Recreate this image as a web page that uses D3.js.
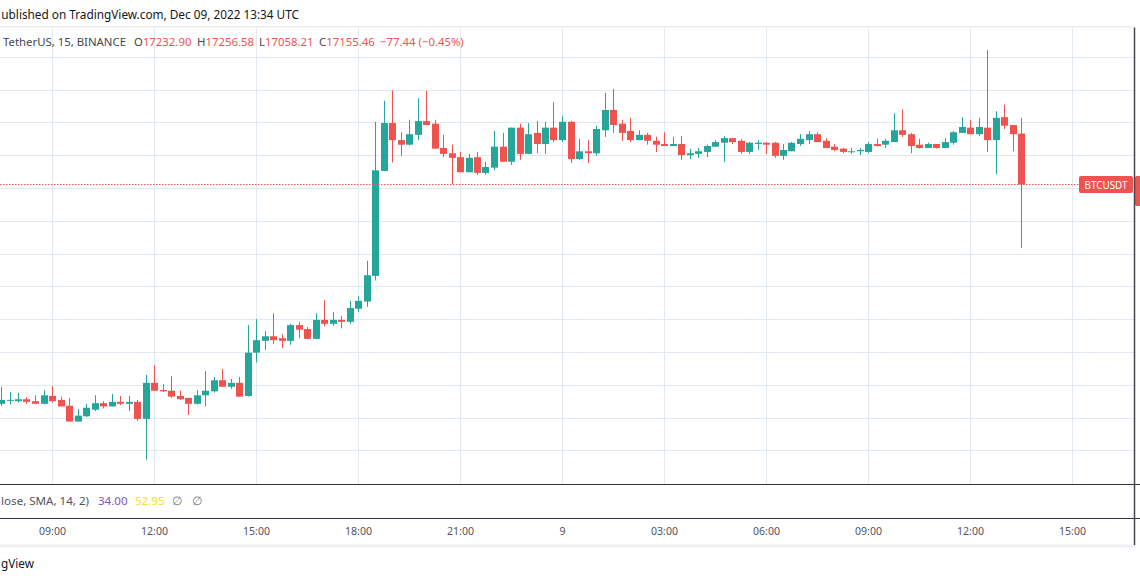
<!DOCTYPE html>
<html><head><meta charset="utf-8">
<script src="https://cdn.jsdelivr.net/npm/d3@7"></script>
<style>
body{margin:0;background:#fff;}
svg{display:block;font-family:"Noto Sans",Roboto,sans-serif;}
</style>
</head><body>
<svg id="chart" width="1140" height="581"></svg>
<script>
// ---------------- DATA ----------------
const startTime = "2022-12-08T07:30:00Z";   // first visible 15-minute candle
const intervalMinutes = 15;
const opens  = [16821,16826,16825,16828,16825,16821,16833,16827,16818,16794,16802,16812,16822,16817,16824,16821,16824,16798,16853,16842,16841,16833,16830,16821,16834,16840,16857,16847,16853,16833,16899,16917,16924,16921,16917,16941,16935,16920,16949,16943,16949,16946,16966,16977,17016,17176,17249,17223,17216,17231,17252,17248,17211,17203,17197,17174,17197,17173,17181,17213,17190,17242,17202,17234,17217,17242,17223,17251,17194,17206,17203,17238,17269,17248,17237,17223,17231,17222,17217,17214,17217,17200,17202,17205,17213,17219,17226,17222,17205,17217,17219,17219,17199,17206,17217,17223,17232,17222,17213,17210,17205,17206,17205,17217,17216,17220,17238,17232,17216,17211,17217,17211,17219,17234,17242,17232,17242,17223,17258,17246,17232.90];
const highs  = [16847,16839,16838,16831,16834,16842,16848,16832,16830,16813,16821,16834,16825,16836,16833,16833,16827,16865,16880,16851,16863,16841,16830,16842,16871,16862,16874,16859,16862,16941,16950,16932,16959,16927,16943,16946,16938,16959,16979,16961,16955,16978,16985,17039,17251,17283,17299,17235,17254,17287,17298,17254,17231,17216,17205,17202,17205,17190,17237,17234,17242,17248,17249,17252,17251,17281,17260,17252,17225,17223,17245,17295,17301,17254,17257,17238,17234,17228,17235,17228,17229,17210,17211,17216,17223,17229,17226,17225,17220,17223,17220,17220,17217,17220,17232,17237,17235,17226,17217,17211,17211,17211,17220,17225,17225,17264,17270,17234,17225,17219,17217,17226,17237,17258,17254,17257,17360,17267,17277,17246,17256.58];
const lows   = [16818,16820,16823,16821,16821,16820,16823,16817,16794,16794,16801,16810,16814,16817,16819,16810,16795,16736,16841,16839,16830,16827,16804,16820,16817,16838,16847,16844,16832,16832,16884,16903,16912,16906,16911,16921,16920,16920,16939,16940,16936,16943,16961,16969,17009,17176,17189,17199,17215,17223,17246,17210,17197,17156,17174,17174,17170,17170,17177,17190,17185,17193,17202,17203,17202,17220,17220,17188,17193,17188,17199,17228,17234,17222,17220,17223,17216,17205,17214,17214,17193,17194,17196,17197,17213,17190,17217,17202,17202,17208,17202,17196,17193,17206,17214,17217,17220,17211,17206,17203,17202,17200,17203,17213,17211,17220,17228,17203,17210,17211,17210,17211,17216,17234,17232,17229,17205,17171,17240,17206,17058.21];
const closes = [16827,16827,16828,16824,16821,16834,16825,16817,16794,16803,16815,16822,16817,16824,16821,16824,16798,16853,16841,16840,16832,16828,16821,16834,16841,16857,16847,16853,16832,16899,16918,16924,16918,16917,16941,16934,16920,16949,16943,16949,16946,16967,16978,17017,17177,17249,17223,17216,17232,17252,17246,17210,17202,17196,17174,17196,17173,17182,17213,17190,17242,17202,17232,17217,17242,17223,17251,17194,17206,17203,17240,17269,17246,17234,17223,17231,17222,17216,17214,17217,17200,17203,17206,17214,17220,17226,17220,17205,17219,17219,17216,17199,17208,17219,17225,17232,17220,17211,17208,17205,17206,17208,17217,17214,17222,17238,17231,17214,17211,17217,17211,17220,17235,17243,17232,17243,17223,17257,17245,17232,17155.46];

const priceGridValues = [16750,16800,16850,16900,16950,17000,17050,17100,17150,17200,17250,17300,17350];
const timeTickTimes = ["2022-12-08T09:00:00Z","2022-12-08T12:00:00Z","2022-12-08T15:00:00Z","2022-12-08T18:00:00Z","2022-12-08T21:00:00Z","2022-12-09T00:00:00Z","2022-12-09T03:00:00Z","2022-12-09T06:00:00Z","2022-12-09T09:00:00Z","2022-12-09T12:00:00Z","2022-12-09T15:00:00Z"];
const timeTickLabels = ["09:00","12:00","15:00","18:00","21:00","9","03:00","06:00","09:00","12:00","15:00"];

// texts as they are visible in the (left-cropped) snapshot
const headerText = "ublished on TradingView.com, Dec 09, 2022 13:34 UTC";
const symbolTitle = "TetherUS, 15, BINANCE";
const ohlcLabels = ["O","H","L","C"];
const ohlcValues = ["17232.90","17256.58","17058.21","17155.46"];
const changeText = "\u221277.44 (\u22120.45%)";
const indicatorTitle = "lose, SMA, 14, 2)";
const indicatorValues = ["34.00","52.95","\u2205","\u2205"];
const symbolLabel = "BTCUSDT";
const footerText = "gView";

// ---------------- COLORS ----------------
const UP = "#26a69a", DOWN = "#ef5350";
const GRID = "#e1eaf1";

// ---------------- BUILD ----------------
const svg = d3.select("#chart");
const W = 1140, H = 581;
const paneRight = 1134;
const paneTop = 27, paneBottom = 484, indBottom = 518;

svg.append("rect").attr("width", W).attr("height", H).attr("fill", "#fff");

const t0 = new Date(startTime).getTime();
const candles = opens.map((o, i) => ({
  t: new Date(t0 + i * intervalMinutes * 60000),
  o, h: highs[i], l: lows[i], c: closes[i]
}));

const x = d3.scaleUtc()
  .domain([new Date("2022-12-08T09:00:00Z"), new Date("2022-12-09T15:00:00Z")])
  .range([52, 1072]);
const y = d3.scaleLinear().domain([16750, 17400]).range([450.4, 24]);

function fitSize(str, target, weight) {
  const t = svg.append("text").attr("font-size", 100).attr("font-weight", weight || 400).text(str);
  const w = t.node().getComputedTextLength();
  t.remove();
  return 100 * target / w;
}

// top band
svg.append("rect").attr("x", 0).attr("y", 26).attr("width", paneRight).attr("height", 1.5).attr("fill", "#ededf0");

// grid
const grid = svg.append("g");
grid.selectAll("line.h").data(priceGridValues).join("line")
  .attr("x1", 0).attr("x2", paneRight)
  .attr("y1", d => Math.round(y(d)) + 0.5).attr("y2", d => Math.round(y(d)) + 0.5)
  .attr("stroke", GRID).attr("stroke-width", 1);
grid.selectAll("line.v").data(timeTickTimes).join("line")
  .attr("x1", d => Math.round(x(new Date(d))) + 0.5).attr("x2", d => Math.round(x(new Date(d))) + 0.5)
  .attr("y1", paneTop + 1).attr("y2", paneBottom)
  .attr("stroke", GRID).attr("stroke-width", 1);

// candles
const cg = svg.append("g");
const bodyW = 7;
cg.selectAll("line.wick").data(candles).join("line")
  .attr("x1", d => Math.round(x(d.t)) + 0.5).attr("x2", d => Math.round(x(d.t)) + 0.5)
  .attr("y1", d => y(d.h)).attr("y2", d => y(d.l))
  .attr("stroke", d => d.c >= d.o ? UP : DOWN).attr("stroke-width", 1);
cg.selectAll("rect.body").data(candles).join("rect")
  .attr("x", d => Math.round(x(d.t)) - 3)
  .attr("width", bodyW)
  .attr("y", d => Math.min(y(d.o), y(d.c)))
  .attr("height", d => Math.max(1, Math.abs(y(d.o) - y(d.c))))
  .attr("fill", d => d.c >= d.o ? UP : DOWN);

// last price line
const last = candles[candles.length - 1];
const py = Math.round(y(last.c)) + 0.5;
svg.append("line").attr("x1", 0).attr("x2", 1079).attr("y1", py).attr("y2", py)
  .attr("stroke", DOWN).attr("stroke-width", 1).attr("stroke-dasharray", "1.5,1.5");
svg.append("rect").attr("x", 1079).attr("y", py - 8.5).attr("width", 54).attr("height", 17).attr("rx", 2).attr("fill", DOWN);
svg.append("text").attr("x", 1106).attr("y", py + 4).attr("text-anchor", "middle")
  .attr("font-size", fitSize(symbolLabel, 43)).attr("fill", "#fff").text(symbolLabel);
svg.append("rect").attr("x", 1135).attr("y", py - 8.5).attr("width", 10).attr("height", 30).attr("rx", 2).attr("fill", DOWN);

// header text
svg.append("text").attr("x", 299).attr("y", 18.5).attr("text-anchor", "end")
  .attr("font-size", fitSize(headerText, 298)).attr("fill", "#131722").text(headerText);

// OHLC legend
const ls = fitSize(symbolTitle, 123);
svg.append("text").attr("x", 126).attr("y", 45.5).attr("text-anchor", "end")
  .attr("font-size", ls).attr("fill", "#434651").text(symbolTitle);
const legendStarts = [134, 197, 259, 319];
ohlcLabels.forEach((lab, i) => {
  const t = svg.append("text").attr("x", legendStarts[i]).attr("y", 45.5).attr("font-size", ls);
  t.append("tspan").attr("fill", "#434651").text(lab);
  t.append("tspan").attr("fill", DOWN).text(ohlcValues[i]);
});
svg.append("text").attr("x", 380).attr("y", 45.5).attr("font-size", ls).attr("fill", DOWN).text(changeText);

// pane separators and right border
svg.append("line").attr("x1", 0).attr("x2", W).attr("y1", paneBottom + 0.5).attr("y2", paneBottom + 0.5)
  .attr("stroke", "#2f323c").attr("stroke-width", 1.2);
svg.append("line").attr("x1", 0).attr("x2", W).attr("y1", indBottom + 0.5).attr("y2", indBottom + 0.5)
  .attr("stroke", "#2f323c").attr("stroke-width", 1.2);
svg.append("rect").attr("x", 0).attr("y", 544.5).attr("width", paneRight + 1).attr("height", 3).attr("fill", "#eef0f4");
svg.append("line").attr("x1", paneRight + 0.5).attr("x2", paneRight + 0.5).attr("y1", paneTop + 0.5).attr("y2", 545)
  .attr("stroke", "#44474f").attr("stroke-width", 1.5);

// indicator legend
const is = fitSize(indicatorTitle, 88);
svg.append("text").attr("x", 89).attr("y", 504.5).attr("text-anchor", "end")
  .attr("font-size", is).attr("fill", "#50535e").text(indicatorTitle);
const indX = [98, 135, 172, 192];
const indColors = ["#7e57c2", "#f5e02c", "#787b86", "#787b86"];
indicatorValues.forEach((v, i) => {
  svg.append("text").attr("x", indX[i]).attr("y", 504.5).attr("font-size", is).attr("fill", indColors[i]).text(v);
});

// time axis
const axis = d3.axisBottom(x)
  .tickValues(timeTickTimes.map(d => new Date(d)))
  .tickFormat((d, i) => timeTickLabels[i])
  .tickSize(0).tickPadding(10);
const ag = svg.append("g").attr("transform", `translate(0,${indBottom})`).call(axis);
ag.select(".domain").remove();
ag.selectAll("text").attr("font-size", fitSize("09:00", 27)).attr("fill", "#50535e")
  .attr("font-family", '"Noto Sans",Roboto,sans-serif');

// footer
svg.append("text").attr("x", 34).attr("y", 568).attr("text-anchor", "end")
  .attr("font-size", fitSize(footerText, 33)).attr("fill", "#131722").text(footerText);
</script>
</body></html>
